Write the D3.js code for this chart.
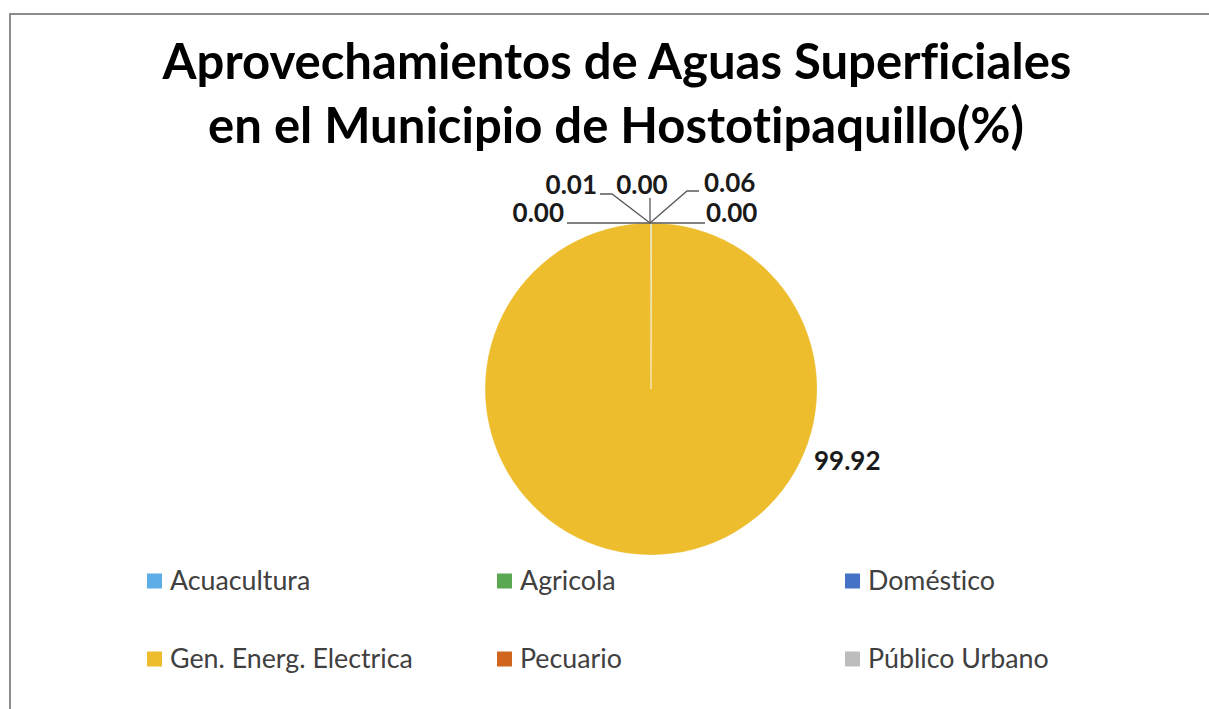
<!DOCTYPE html>
<html>
<head>
<meta charset="utf-8">
<script src="https://cdn.jsdelivr.net/npm/d3@7"></script>
<style>
  html, body { margin: 0; padding: 0; background: #fff; }
  svg { display: block; }
  text { font-variant-ligatures: none; font-feature-settings: "liga" 0, "clig" 0; }
</style>
</head>
<body>
<svg id="chart" width="1209" height="709"></svg>
<script>
// ---- data ----
const categories = ["Acuacultura", "Agricola", "Doméstico", "Gen. Energ. Electrica", "Pecuario", "Público Urbano"];
const values = [0.003, 0.06, 0.002, 99.92, 0.004, 0.01];
const labelTexts = ["0.00", "0.06", "0.00", "99.92", "0.00", "0.01"];
const colors = ["#5DADE6", "#5BA853", "#4472C4", "#EDBD2E", "#D0661E", "#BDBDBD"];
const titleLines = ["Aprovechamientos de Aguas Superficiales", "en el Municipio de Hostotipaquillo(%)"];

// ---- layout ----
const W = 1209, H = 709;
const cx = 651, cy = 389, R = 166;
const svg = d3.select("#chart");

// frame
svg.append("rect").attr("x", 10).attr("y", 14).attr("width", W + 20).attr("height", H + 20)
  .attr("fill", "#fff").attr("stroke", "#8c8c8c").attr("stroke-width", 2);

// title
const titleG = svg.append("g");
const tFont = "Lato, 'Open Sans', sans-serif";
const t1 = titleG.append("text").attr("x", 617).attr("y", 79).attr("text-anchor", "middle")
  .attr("font-family", tFont).attr("font-weight", 700).attr("font-size", 48).attr("fill", "#000")
  .text(titleLines[0]);
const w1 = t1.node().getComputedTextLength();
const tSize = 48 * 909 / w1;
t1.attr("font-size", tSize);
titleG.append("text").attr("x", 616).attr("y", 143).attr("text-anchor", "middle")
  .attr("font-family", tFont).attr("font-weight", 700).attr("font-size", tSize).attr("fill", "#000")
  .text(titleLines[1]);

// pie
const pie = d3.pie().sort(null).value(d => d)(values);
const arc = d3.arc().innerRadius(0).outerRadius(R);
const pg = svg.append("g").attr("transform", `translate(${cx},${cy})`);
pg.selectAll("path").data(pie).join("path")
  .attr("d", arc)
  .attr("fill", (d, i) => colors[i])
  .attr("stroke", "#fff").attr("stroke-width", 1).attr("stroke-opacity", 0.2);

// labels
const pieTop = { x: cx - 1, y: cy - R };
const labelLayout = [
  { x: 642, y: 194, anchor: "middle", pts: [[0, 0], [0, -25]] },
  { x: 704, y: 192, anchor: "start", pts: [[0, 0], [37, -32], [49, -32]] },
  { x: 706, y: 222, anchor: "start", pts: [[0, 0], [55, 0]] },
  null,
  { x: 564, y: 222, anchor: "end", pts: [[0, 0], [-83, 0]] },
  { x: 597, y: 194, anchor: "end", pts: [[0, 0], [-38, -29], [-50, -29]] }
];
const lblFont = 26;
const lg = svg.append("g");
pie.forEach((d, i) => {
  const L = labelLayout[i];
  if (!L) return;
  lg.append("polyline")
    .attr("points", L.pts.map(p => `${pieTop.x + p[0]},${pieTop.y + p[1]}`).join(" "))
    .attr("fill", "none").attr("stroke", "#595959").attr("stroke-width", 1.3);
  lg.append("text").attr("x", L.x).attr("y", L.y).attr("text-anchor", L.anchor)
    .attr("font-family", tFont).attr("font-weight", 700).attr("font-size", lblFont).attr("fill", "#1a1a1a")
    .text(labelTexts[i]);
});
lg.append("text").attr("x", 814).attr("y", 470).attr("text-anchor", "start")
  .attr("font-family", tFont).attr("font-weight", 700).attr("font-size", lblFont).attr("fill", "#1a1a1a")
  .text(labelTexts[3]);

// legend
const legX = [147, 497, 845];
const legY = [581, 659];
const leg = svg.append("g");
// fit legend font to reference width of the longest entry
const probe = leg.append("text").attr("font-family", tFont).attr("font-size", 24).text(categories[3]);
const legSize = 24 * 243 / probe.node().getComputedTextLength();
probe.remove();
categories.forEach((c, i) => {
  const col = i % 3, row = Math.floor(i / 3);
  leg.append("rect").attr("x", legX[col]).attr("y", legY[row] - 7.5).attr("width", 15).attr("height", 15)
    .attr("fill", colors[i]);
  leg.append("text").attr("x", legX[col] + 23).attr("y", legY[row] + 9)
    .attr("font-family", tFont).attr("font-size", legSize).attr("fill", "#404040")
    .text(c);
});
</script>
</body>
</html>
